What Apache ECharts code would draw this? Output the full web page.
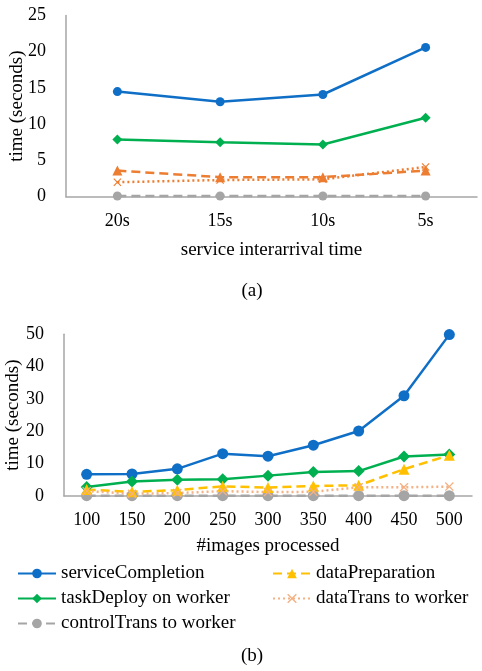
<!DOCTYPE html>
<html><head><meta charset="utf-8">
<script src="https://cdn.jsdelivr.net/npm/echarts@6/dist/echarts.min.js"></script>
<style>html,body{margin:0;padding:0;background:#fff}#c{width:482px;height:671px}</style>
</head><body><div id="c"></div>
<script>
// Chart (a)
const catsA = ['20s', '15s', '10s', '5s'];
const aServiceCompletion = [14.5, 13.1, 14.1, 20.6];
const aTaskDeploy = [7.9, 7.5, 7.2, 10.9];
const aDataPreparation = [3.6, 2.7, 2.7, 3.6];
const aDataTrans = [2.0, 2.3, 2.4, 4.1];
const aControlTrans = [0.1, 0.1, 0.1, 0.1];
// Chart (b)
const catsB = ['100', '150', '200', '250', '300', '350', '400', '450', '500'];
const bServiceCompletion = [6.7, 6.8, 8.4, 13.1, 12.3, 15.7, 20.1, 31.0, 49.9];
const bTaskDeploy = [2.8, 4.5, 5.0, 5.2, 6.3, 7.4, 7.7, 12.2, 12.8];
const bDataPreparation = [2.0, 1.3, 1.8, 3.0, 2.6, 3.1, 3.3, 8.3, 12.6];
const bDataTrans = [1.5, 0.7, 0.9, 1.5, 1.2, 1.3, 2.7, 2.7, 2.9];
const bControlTrans = [0.1, 0.1, 0.1, 0.1, 0.1, 0.1, 0.1, 0.1, 0.1];
const names = ['serviceCompletion', 'taskDeploy on worker', 'controlTrans to worker', 'dataPreparation', 'dataTrans to worker'];

const FONT = 'Liberation Serif';
const XSYM = 'path://M0,1 L1,0 L5,4 L9,0 L10,1 L6,5 L10,9 L9,10 L5,6 L1,10 L0,9 L4,5 Z';
const axisColor = '#A6A6A6';

function mk(name, data, idx, color, type, symbol, size, prefix) {
  return {
    name: prefix + name, type: 'line', data: data, xAxisIndex: idx, yAxisIndex: idx,
    symbol: symbol, symbolSize: size, showSymbol: true,
    lineStyle: {color: color, width: 2.5, type: type},
    itemStyle: {color: color},
    emphasis: {disabled: true}, z: 2
  };
}
const dashT = [9, 5];
const dotT = [2, 3];

const series = [
  mk(names[0], bServiceCompletion, 1, '#0F6FC6', 'solid', 'circle', 11, ''),
  mk(names[1], bTaskDeploy, 1, '#00B050', 'solid', 'diamond', 12, ''),
  mk(names[2], bControlTrans, 1, '#A5A5A5', dashT, 'circle', 11, ''),
  mk(names[3], bDataPreparation, 1, '#FFC000', dashT, 'triangle', 11, ''),
  mk(names[4], bDataTrans, 1, '#F4B183', dotT, XSYM, 9, ''),
  mk(names[0], aServiceCompletion, 0, '#0F6FC6', 'solid', 'circle', 9, 'a-'),
  mk(names[1], aTaskDeploy, 0, '#00B050', 'solid', 'diamond', 10, 'a-'),
  mk(names[2], aControlTrans, 0, '#A5A5A5', dashT, 'circle', 9, 'a-'),
  mk(names[3], aDataPreparation, 0, '#ED7D31', dashT, 'triangle', 10, 'a-'),
  mk(names[4], aDataTrans, 0, '#ED7D31', dotT, XSYM, 8, 'a-')
];

const tick = {fontFamily: FONT, fontSize: 18, color: '#000'};
const nm = {fontFamily: FONT, fontSize: 19, color: '#000'};
function xAx(idx, cats, name, gap, margin) {
  return {
    type: 'category', gridIndex: idx, data: cats, boundaryGap: true,
    axisLine: {lineStyle: {color: axisColor, width: 1.5}}, axisTick: {show: false},
    axisLabel: Object.assign({margin: margin}, tick),
    name: name, nameLocation: 'middle', nameGap: gap, nameTextStyle: nm, nameMoveOverlap: false
  };
}
function yAx(idx, max, interval, gap, margin) {
  return {
    type: 'value', gridIndex: idx, min: 0, max: max, interval: interval,
    axisLine: {show: true, lineStyle: {color: axisColor, width: 1.5}}, axisTick: {show: false},
    splitLine: {show: false},
    axisLabel: Object.assign({margin: margin}, tick),
    name: 'time (seconds)', nameLocation: 'middle', nameGap: gap, nameRotate: 90, nameTextStyle: nm,
    nameMoveOverlap: false
  };
}
const legText = {fontFamily: FONT, fontSize: 19, color: '#000'};
const option = {
  animation: false,
  backgroundColor: '#fff',
  title: [
    {text: '(a)', left: 252, top: 282, textAlign: 'center', padding: 0, textStyle: {fontFamily: FONT, fontSize: 19, fontWeight: 'normal', color: '#000'}},
    {text: '(b)', left: 252, top: 647, textAlign: 'center', padding: 0, textStyle: {fontFamily: FONT, fontSize: 19, fontWeight: 'normal', color: '#000'}}
  ],
  grid: [
    {left: 66, right: 5, top: 15.5, bottom: 474.3, containLabel: false, outerBoundsMode: 'none'},
    {left: 64, right: 10, top: 334.3, bottom: 175, containLabel: false, outerBoundsMode: 'none'}
  ],
  xAxis: [xAx(0, catsA, 'service interarrival time', 44, 16), xAx(1, catsB, '#images processed', 41, 15)],
  yAxis: [yAx(0, 25, 5, 39, 20), yAx(1, 50, 10, 41, 20)],
  legend: [
    {orient: 'vertical', left: 17, top: 564, padding: 0, itemWidth: 38, itemHeight: 12, itemGap: 6,
     data: [names[0], names[1], names[2]], textStyle: legText, selectedMode: false},
    {orient: 'vertical', left: 272, top: 564, padding: 0, itemWidth: 38, itemHeight: 12, itemGap: 6,
     data: [names[3], names[4]], textStyle: legText, selectedMode: false}
  ],
  series: series
};
const chart = echarts.init(document.getElementById('c'), null, {renderer: 'canvas'});
chart.setOption(option);
</script></body></html>
